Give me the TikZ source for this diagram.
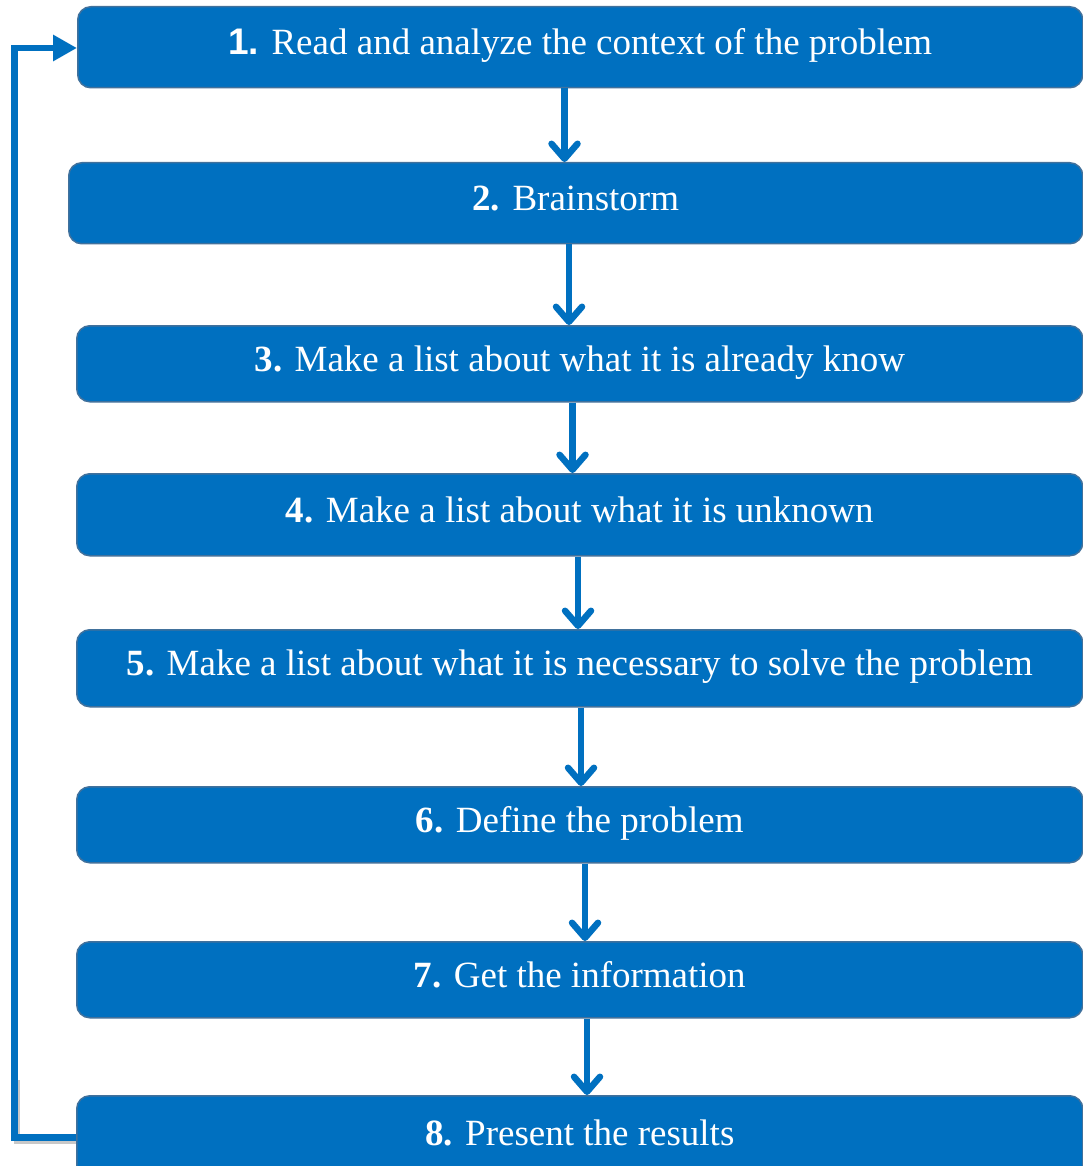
\documentclass[tikz,border=0pt]{standalone}
\usepackage{fontspec}
\setmainfont{Liberation Serif}
\newfontfamily\arialfont{Liberation Sans}
\usetikzlibrary{arrows.meta}
\definecolor{boxblue}{HTML}{0070C0}
\definecolor{boxedge}{HTML}{41719C}
\definecolor{shadowgray}{HTML}{C8C8C8}
\tikzset{
  stepbox/.style={draw=boxedge, line width=1.5pt, fill=boxblue, rounded corners=13pt,
    anchor=north west, inner sep=0pt, text=white,
    font=\fontsize{37}{42}\selectfont, text height=25pt, text depth=10pt},
  flowarrow/.style={draw=boxblue, line width=6.5pt,
    -{Straight Barb[length=15pt,width=26pt,round]}},
  backarrow/.style={draw=boxblue, line width=6.5pt,
    -{Triangle[length=24pt,width=25pt]}},
  backshadow/.style={draw=shadowgray, line width=6pt},
}
\newcommand{\numb}[1]{\textbf{#1}}
\begin{document}
\begin{tikzpicture}[x=1pt,y=-1pt]
\useasboundingbox (0,0) rectangle (1083,1166);
\clip (0,0) rectangle (1083,1166);
\fill[white] (0,0) rectangle (1083,1166);

\node[stepbox, minimum width=1005pt, minimum height=81pt] (b1) at (77,6)
  {{\arialfont\bfseries 1.} Read and analyze the context of the problem};
\node[stepbox, minimum width=1014pt, minimum height=81pt] (b2) at (68,162)
  {\numb{2.} Brainstorm};
\node[stepbox, minimum width=1006pt, minimum height=76pt] (b3) at (76,325)
  {\numb{3.} Make a list about what it is already know};
\node[stepbox, minimum width=1006pt, minimum height=82pt] (b4) at (76,473)
  {\numb{4.} Make a list about what it is unknown};
\node[stepbox, minimum width=1006pt, minimum height=77pt] (b5) at (76,629)
  {\numb{5.} Make a list about what it is necessary to solve the problem};
\node[stepbox, minimum width=1006pt, minimum height=76pt] (b6) at (76,786)
  {\numb{6.} Define the problem};
\node[stepbox, minimum width=1006pt, minimum height=76pt] (b7) at (76,941)
  {\numb{7.} Get the information};
\node[stepbox, minimum width=1006pt, minimum height=84pt] (b8) at (76,1095)
  {\numb{8.} Present the results};

% vertical arrows
\draw[flowarrow] (564.5,0 |- b1.south) -- (564.5,0 |- b2.north);
\draw[flowarrow] (569,0 |- b2.south) -- (569,0 |- b3.north);
\draw[flowarrow] (572.5,0 |- b3.south) -- (572.5,0 |- b4.north);
\draw[flowarrow] (578,0 |- b4.south) -- (578,0 |- b5.north);
\draw[flowarrow] (581,0 |- b5.south) -- (581,0 |- b6.north);
\draw[flowarrow] (585,0 |- b6.south) -- (585,0 |- b7.north);
\draw[flowarrow] (587,0 |- b7.south) -- (587,0 |- b8.north);

% feedback loop
\coordinate (fbL) at (14.5,1137.5);
\coordinate (fbT) at (14.5,48);
\draw[backshadow] ([xshift=-0.5pt]b8.west |- 0,1140.5) -- (16.5,1140.5) -- (16.5,1080);
\draw[backarrow] (b8.west |- fbL) -- (fbL) -- (fbT) -- (b1.west |- fbT);
\end{tikzpicture}
\end{document}
